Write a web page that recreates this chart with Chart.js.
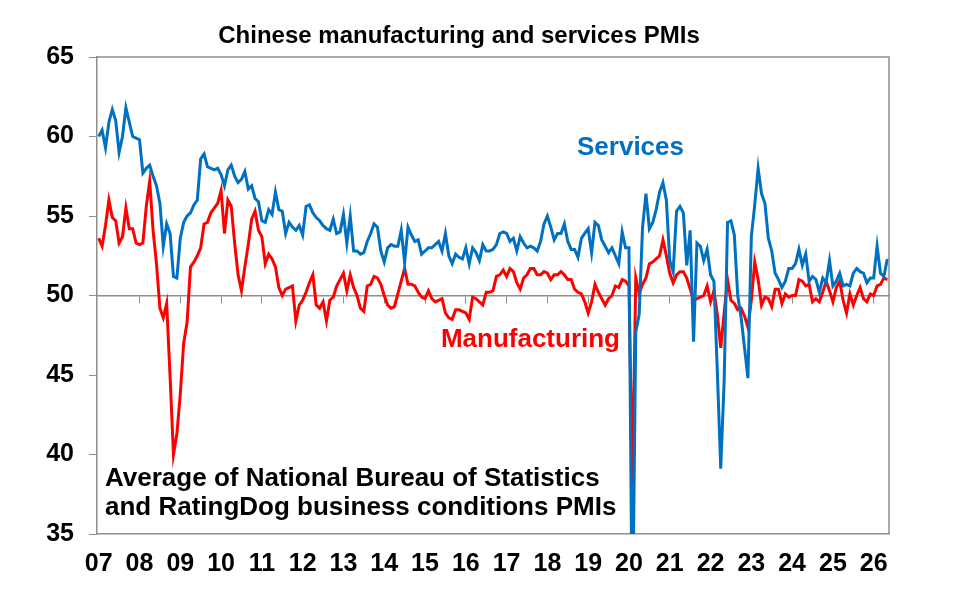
<!DOCTYPE html>
<html>
<head>
<meta charset="utf-8">
<script src="https://cdn.jsdelivr.net/npm/chart.js@4.4.1/dist/chart.umd.min.js"></script>
<style>
  html, body { margin: 0; padding: 0; background: #fff; }
  #wrap { width: 954px; height: 597px; }
</style>
</head>
<body>
<div id="wrap"><canvas id="pmiChart" width="954" height="597"></canvas></div>
<script>
// year labels shown under the axis (one per January)
const yearLabels = ['07','08','09','10','11','12','13','14','15','16','17','18','19','20','21','22','23','24','25','26'];

// average of NBS non-manufacturing and Caixin/RatingDog services PMI, Jan 2007 - May 2026
const services = [
  60.0, 60.4, 59.3, 60.9, 61.7, 61.0, 59.0, 60.0, 61.8, 60.9, 60.0, 59.9, // 07
  59.8, 57.7, 58.0, 58.2, 57.5, 56.9, 55.8, 53.1, 54.5, 53.9, 51.2, 51.1, // 08
  53.6, 54.6, 55.0, 55.2, 55.7, 56.0, 58.6, 58.9, 58.1, 58.0, 57.9, 58.0, // 09
  57.6, 56.9, 57.9, 58.2, 57.5, 57.1, 57.3, 57.8, 56.7, 56.9, 56.1, 55.9, // 10
  54.7, 54.6, 55.4, 55.1, 56.5, 55.4, 55.3, 53.9, 54.6, 54.3, 54.1, 54.4, // 11
  53.8, 55.6, 55.7, 55.2, 54.9, 54.7, 54.4, 54.2, 54.1, 54.8, 53.9, 54.0, // 12
  55.1, 53.3, 55.0, 52.8, 52.8, 52.6, 52.7, 53.4, 53.9, 54.5, 54.3, 52.8, // 13
  52.1, 53.0, 53.2, 53.1, 53.1, 54.1, 52.1, 54.3, 53.8, 53.4, 53.5, 52.6, // 14
  52.8, 53.0, 53.0, 53.2, 53.4, 52.8, 53.9, 52.5, 52.0, 52.6, 52.4, 52.3, // 15
  53.0, 52.0, 53.0, 52.7, 52.2, 53.2, 52.8, 52.8, 52.9, 53.2, 53.9, 54.0, // 16
  53.9, 53.4, 53.6, 52.8, 53.7, 53.3, 53.0, 53.1, 53.0, 52.8, 53.4, 54.5, // 17
  55.0, 54.3, 53.5, 53.9, 53.9, 54.5, 53.4, 52.9, 52.9, 52.4, 53.6, 53.9, // 18
  54.2, 52.7, 54.6, 54.4, 53.5, 53.1, 52.7, 53.0, 52.5, 52.0, 54.0, 53.0, // 19
  53.0, 28.1, 47.7, 48.8, 54.3, 56.4, 54.2, 54.6, 55.4, 56.5, 57.1, 56.0, // 20
  52.2, 51.5, 55.3, 55.6, 55.2, 51.9, 54.1, 47.1, 53.3, 53.1, 52.2, 52.9, // 21
  51.3, 50.9, 45.2, 39.1, 44.6, 54.6, 54.7, 53.8, 50.0, 48.6, 46.7, 44.8, // 22
  53.7, 55.7, 58.0, 56.4, 55.8, 53.6, 52.8, 51.4, 51.0, 50.5, 50.9, 51.7, // 23
  51.7, 52.0, 52.9, 51.9, 52.6, 50.9, 51.2, 51.0, 50.2, 51.1, 50.8, 52.2, // 24
  50.6, 50.9, 51.4, 50.6, 50.7, 50.6, 51.4, 51.7, 51.5, 51.4, 50.8, 51.1, // 25
  51.1, 53.1, 51.4, 51.2, 52.3                                            // 26
];

// average of NBS and Caixin/RatingDog manufacturing PMI
const manufacturing = [
  53.6, 53.1, 54.4, 56.0, 54.9, 54.7, 53.3, 53.7, 55.5, 54.2, 54.2, 53.3, // 07
  53.2, 53.3, 55.6, 57.2, 54.1, 52.0, 49.2, 48.6, 49.5, 44.9, 40.0, 41.3, // 08
  43.8, 47.0, 48.3, 51.8, 52.1, 52.5, 53.0, 54.5, 54.6, 55.2, 55.5, 55.8, // 09
  56.6, 53.9, 56.0, 55.6, 53.3, 51.3, 50.3, 51.8, 53.2, 54.8, 55.3, 54.1, // 10
  53.7, 52.0, 52.6, 52.3, 51.8, 50.5, 50.0, 50.4, 50.5, 50.6, 48.4, 49.4, // 11
  49.7, 50.2, 50.8, 51.3, 49.4, 49.2, 49.6, 48.4, 49.7, 49.9, 50.6, 51.0, // 12
  51.4, 50.3, 51.3, 50.5, 50.0, 49.2, 49.0, 50.6, 50.7, 51.2, 51.1, 50.7, // 13
  50.0, 49.4, 49.2, 49.3, 50.1, 50.9, 51.7, 50.7, 50.7, 50.6, 50.2, 49.9, // 14
  49.8, 50.3, 49.8, 49.6, 49.7, 49.8, 48.9, 48.6, 48.5, 49.1, 49.1, 49.0, // 15
  48.9, 48.5, 49.9, 49.8, 49.6, 49.4, 50.2, 50.2, 50.3, 51.2, 51.3, 51.6, // 16
  51.2, 51.7, 51.5, 50.8, 50.4, 51.1, 51.3, 51.7, 51.7, 51.3, 51.3, 51.5, // 17
  51.4, 51.0, 51.3, 51.3, 51.5, 51.3, 51.0, 51.0, 50.4, 50.2, 50.1, 49.6, // 18
  48.9, 49.6, 50.7, 50.2, 49.8, 49.4, 49.8, 50.0, 50.6, 50.5, 51.0, 50.9, // 19
  50.6, 38.0, 51.1, 50.1, 50.7, 51.1, 52.0, 52.1, 52.3, 52.5, 53.5, 52.5, // 20
  51.4, 50.8, 51.3, 51.5, 51.5, 51.1, 50.4, 49.7, 49.8, 49.9, 50.0, 50.6, // 21
  49.6, 50.3, 48.8, 46.7, 48.9, 51.0, 49.7, 49.5, 49.1, 49.2, 48.7, 48.0, // 22
  49.7, 52.1, 51.0, 49.4, 49.9, 49.8, 49.3, 50.4, 50.4, 49.5, 50.1, 49.9, // 23
  50.0, 50.0, 51.0, 50.9, 50.6, 50.7, 49.6, 49.8, 49.6, 50.2, 50.9, 50.3, // 24
  49.6, 50.5, 50.9, 49.7, 48.9, 50.1, 49.4, 50.0, 50.5, 49.8, 49.6, 50.1, // 25
  50.0, 50.6, 50.7, 51.1, 51.0                                            // 26
];

const yMin = 35, yMax = 65, yStep = 5;

// one category per month, label only on January
const monthLabels = [];
for (let y = 0; y < yearLabels.length; y++) {
  for (let m = 0; m < 12; m++) monthLabels.push(m === 0 ? yearLabels[y] : '');
}
monthLabels.length = services.length;

const FONT = "'Liberation Sans', Arial, sans-serif";
const GREY = '#8e8e8e';
const BLUE = '#0070C0';
const RED = '#FF0000';

Chart.defaults.font.family = FONT;

// box round the plot + the free text
const extras = {
  id: 'extras',
  afterDraw(chart) {
    const c = chart.ctx, a = chart.chartArea;
    c.save();
    c.strokeStyle = GREY;
    c.lineWidth = 1.5;
    c.beginPath();
    c.moveTo(a.left, a.top); c.lineTo(a.right, a.top); c.lineTo(a.right, a.bottom);
    c.stroke();

    c.textBaseline = 'alphabetic';
    c.fillStyle = '#000';
    c.font = 'bold 24px ' + FONT;
    c.textAlign = 'center';
    c.fillText('Chinese manufacturing and services PMIs', 459, 43);

    c.font = 'bold 26px ' + FONT;
    c.textAlign = 'left';
    c.fillStyle = BLUE;
    c.fillText('Services', 577, 155);
    c.fillStyle = RED;
    c.textAlign = 'right';
    c.fillText('Manufacturing', 620, 347);

    c.fillStyle = '#000';
    c.textAlign = 'left';
    c.fillText('Average of National Bureau of Statistics', 105, 486);
    c.fillText('and RatingDog business conditions PMIs', 105, 515);
    c.restore();
  }
};

const ctx = document.getElementById('pmiChart').getContext('2d');
new Chart(ctx, {
  type: 'line',
  data: {
    labels: monthLabels,
    datasets: [
      { label: 'Services', data: services, borderColor: BLUE, borderWidth: 3, pointRadius: 0, tension: 0, xAxisID: 'x', yAxisID: 'y' },
      { label: 'Manufacturing', data: manufacturing, borderColor: RED, borderWidth: 3, pointRadius: 0, tension: 0, xAxisID: 'x', yAxisID: 'y' }
    ]
  },
  options: {
    responsive: false,
    animation: false,
    devicePixelRatio: 1,
    layout: { padding: { left: 0, right: 65, top: 57, bottom: 0 } },
    plugins: { legend: { display: false }, tooltip: { enabled: false }, title: { display: false } },
    scales: {
      x: {
        type: 'category',
        position: 'bottom',
        offset: true,
        grid: { display: true, drawOnChartArea: false, drawTicks: false, color: 'rgba(0,0,0,0)' },
        border: { display: true, color: GREY, width: 1.5 },
        ticks: {
          autoSkip: false, maxRotation: 0, minRotation: 0, padding: 15,
          color: '#000', font: { family: FONT, size: 25, weight: 'bold' }
        },
        afterFit: s => { s.height = 63; }
      },
      x50: {
        type: 'category',
        position: { y: 50 },
        offset: true,
        grid: {
          display: true, drawOnChartArea: false, drawTicks: true, tickLength: 7,
          tickColor: c => (c.index % 12 === 0 && c.index > 0 && c.index < monthLabels.length) ? GREY : 'rgba(0,0,0,0)'
        },
        border: { display: true, color: GREY, width: 1.5 },
        ticks: { display: false }
      },
      y: {
        position: 'left',
        min: yMin, max: yMax,
        grid: { display: true, drawOnChartArea: false, drawTicks: true, tickLength: 8, tickColor: GREY },
        border: { display: true, color: GREY, width: 1.5 },
        ticks: {
          stepSize: yStep, padding: 15, color: '#000',
          font: { family: FONT, size: 25, weight: 'bold' }
        },
        afterFit: s => { s.width = 97; }
      }
    }
  },
  plugins: [extras]
});
</script>
</body>
</html>
